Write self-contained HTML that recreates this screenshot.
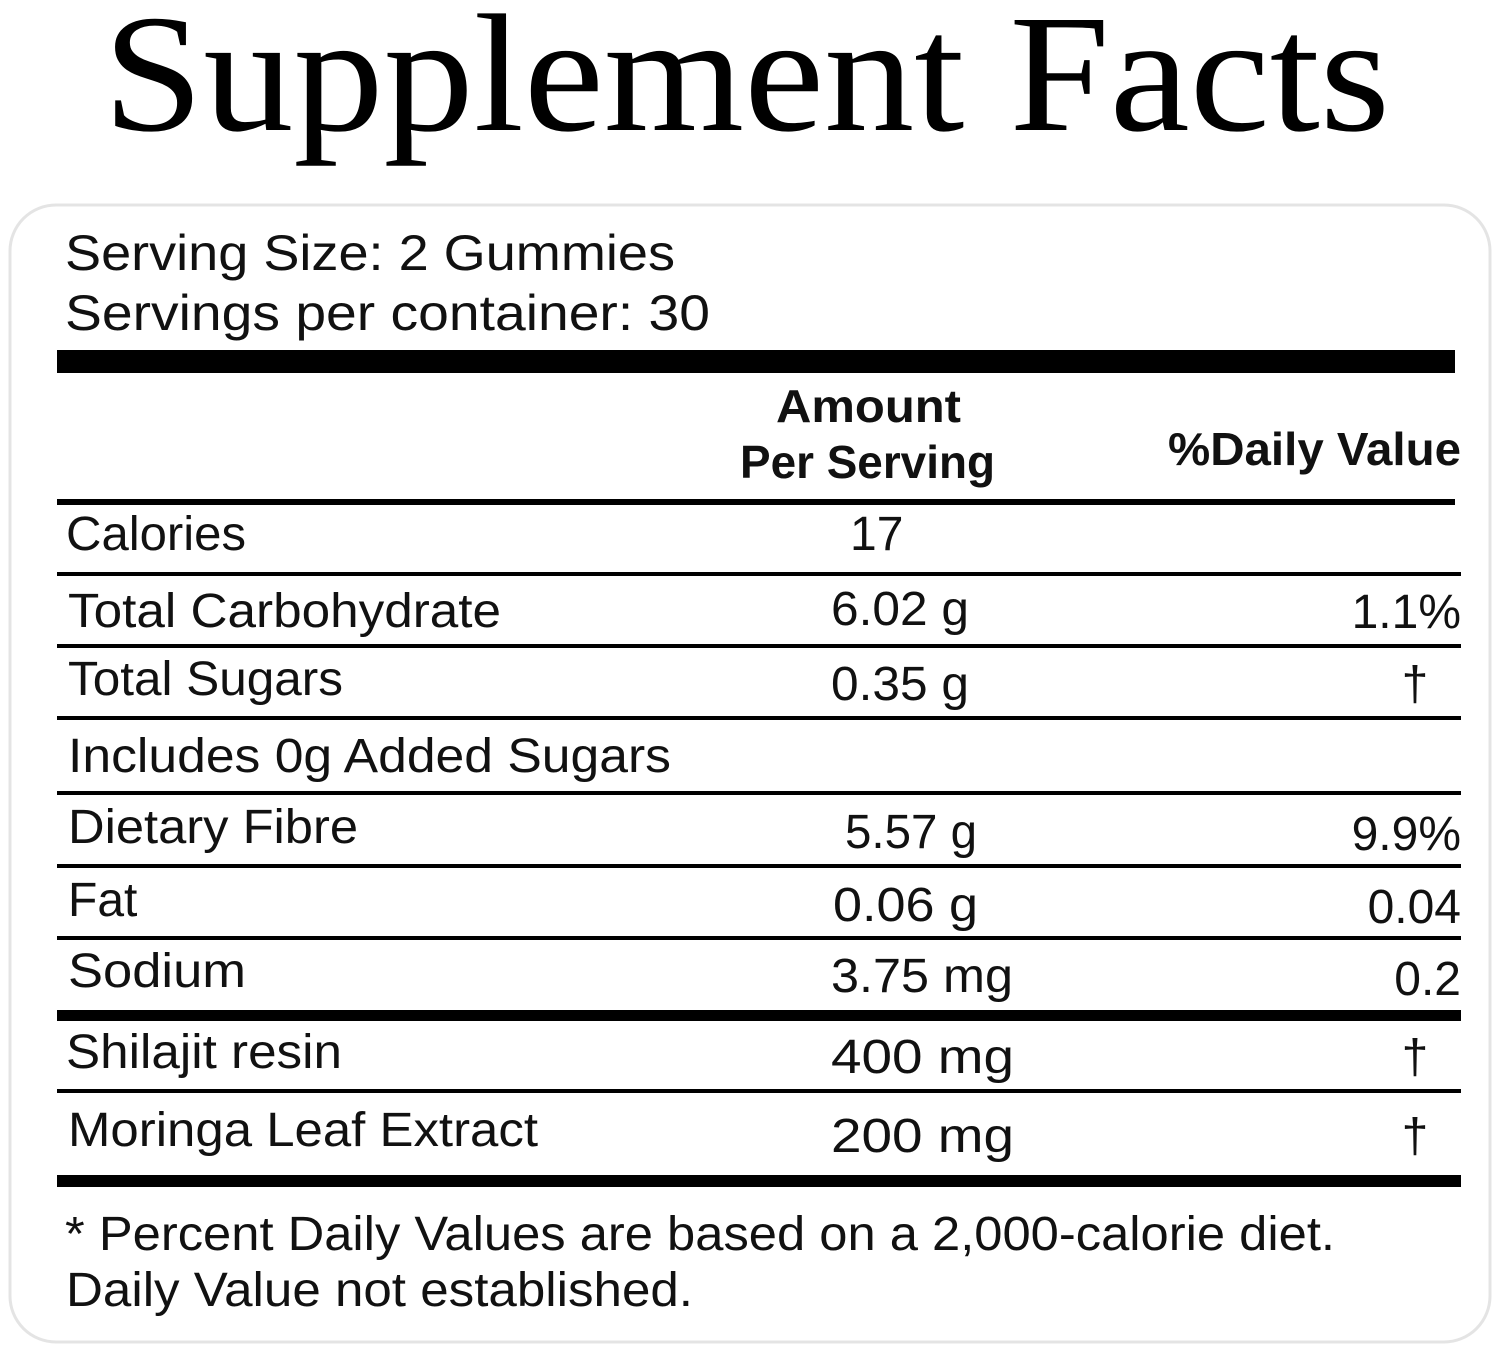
<!DOCTYPE html>
<html><head><meta charset="utf-8"><style>
html,body{margin:0;padding:0;background:#fff;}
svg{display:block;}
</style></head><body>
<svg width="1500" height="1352" viewBox="0 0 1500 1352" xmlns="http://www.w3.org/2000/svg">
<rect x="0" y="0" width="1500" height="1352" fill="#fff"/>
<rect x="10" y="205" width="1480" height="1137" rx="46" fill="#fff" stroke="#e4e4e4" stroke-width="3"/>
<text x="103" y="130" font-family="Liberation Serif, serif" font-size="168" textLength="1287" lengthAdjust="spacingAndGlyphs" fill="#000">Supplement Facts</text>
<g font-family="Liberation Sans, sans-serif" fill="#111" font-size="50">
<text x="65" y="270" textLength="610" lengthAdjust="spacingAndGlyphs">Serving Size: 2 Gummies</text>
<text x="65" y="330" textLength="645" lengthAdjust="spacingAndGlyphs">Servings per container: 30</text>
<g font-weight="bold" font-size="46">
<text x="776" y="422" textLength="185" lengthAdjust="spacingAndGlyphs">Amount</text>
<text x="740" y="478" textLength="255" lengthAdjust="spacingAndGlyphs">Per Serving</text>
<text x="1168" y="465" textLength="293" lengthAdjust="spacingAndGlyphs">%Daily Value</text>
</g>
<g font-size="48">
<text x="66" y="550" textLength="180" lengthAdjust="spacingAndGlyphs">Calories</text>
<text x="850" y="550">17</text>
<text x="68" y="627" textLength="433" lengthAdjust="spacingAndGlyphs">Total Carbohydrate</text>
<text x="831" y="625" textLength="138" lengthAdjust="spacingAndGlyphs">6.02 g</text>
<text x="1461" y="628" text-anchor="end">1.1%</text>
<text x="68" y="695" textLength="275" lengthAdjust="spacingAndGlyphs">Total Sugars</text>
<text x="831" y="700" textLength="138" lengthAdjust="spacingAndGlyphs">0.35 g</text>
<text x="1415" y="700" text-anchor="middle">†</text>
<text x="68" y="772" textLength="603" lengthAdjust="spacingAndGlyphs">Includes 0g Added Sugars</text>
<text x="68" y="843" textLength="290" lengthAdjust="spacingAndGlyphs">Dietary Fibre</text>
<text x="845" y="848" textLength="132" lengthAdjust="spacingAndGlyphs">5.57 g</text>
<text x="1461" y="850" text-anchor="end">9.9%</text>
<text x="68" y="916">Fat</text>
<text x="833" y="921" textLength="145" lengthAdjust="spacingAndGlyphs">0.06 g</text>
<text x="1461" y="923" text-anchor="end">0.04</text>
<text x="68" y="987" textLength="178" lengthAdjust="spacingAndGlyphs">Sodium</text>
<text x="831" y="992" textLength="182" lengthAdjust="spacingAndGlyphs">3.75 mg</text>
<text x="1461" y="995" text-anchor="end">0.2</text>
<text x="66" y="1068" textLength="276" lengthAdjust="spacingAndGlyphs">Shilajit resin</text>
<text x="831" y="1073" textLength="183" lengthAdjust="spacingAndGlyphs">400 mg</text>
<text x="1415" y="1073" text-anchor="middle">†</text>
<text x="68" y="1146" textLength="470" lengthAdjust="spacingAndGlyphs">Moringa Leaf Extract</text>
<text x="831" y="1152" textLength="183" lengthAdjust="spacingAndGlyphs">200 mg</text>
<text x="1415" y="1152" text-anchor="middle">†</text>
<text x="65" y="1250" textLength="1270" lengthAdjust="spacingAndGlyphs">* Percent Daily Values are based on a 2,000-calorie diet.</text>
<text x="66" y="1306" textLength="627" lengthAdjust="spacingAndGlyphs">Daily Value not established.</text>
</g>
</g>
<g fill="#000">
<rect x="57" y="350" width="1398" height="23"/>
<rect x="57" y="499" width="1398" height="6"/>
<rect x="57" y="572" width="1404" height="4"/>
<rect x="57" y="644" width="1404" height="4"/>
<rect x="57" y="716" width="1404" height="4"/>
<rect x="57" y="791" width="1404" height="4"/>
<rect x="57" y="864" width="1404" height="4"/>
<rect x="57" y="936" width="1404" height="4"/>
<rect x="57" y="1010" width="1404" height="11"/>
<rect x="57" y="1089" width="1404" height="4"/>
<rect x="57" y="1175" width="1404" height="12"/>
</g>
</svg>
</body></html>
